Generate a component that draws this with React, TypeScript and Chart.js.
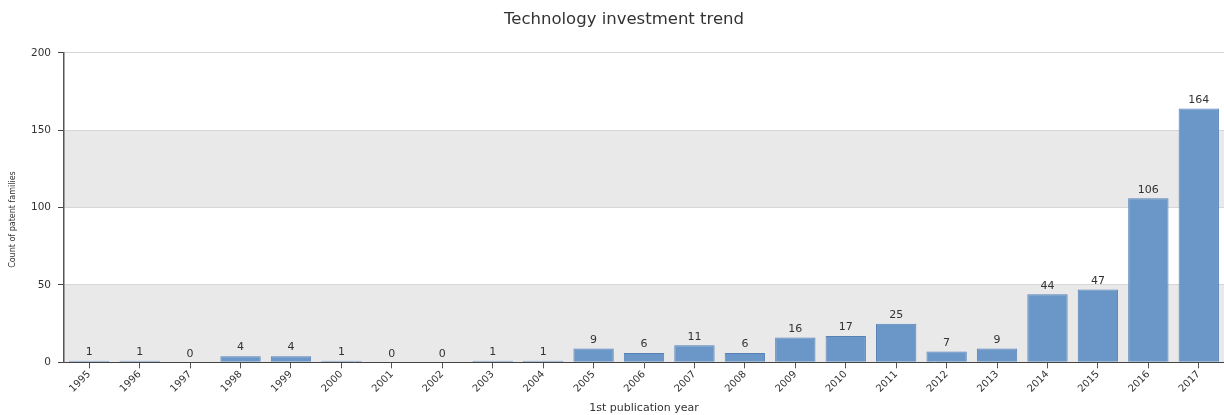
import React, { useEffect, useRef } from "react";
import { Chart, registerables } from "chart.js";

Chart.register(...registerables);

const years = ["1995","1996","1997","1998","1999","2000","2001","2002","2003","2004","2005","2006","2007","2008","2009","2010","2011","2012","2013","2014","2015","2016","2017"];
const counts = [1,1,0,4,4,1,0,0,1,1,9,6,11,6,16,17,25,7,9,44,47,106,164];
const yTicks = [0, 50, 100, 150, 200];
const bands = [[0, 50], [100, 150]];
const yTitle = "Count of patent families";
const xTitle = "1st publication year";
const chartTitle = "Technology investment trend";

const FONT = "'DejaVu Sans', Verdana, sans-serif";

const bandPlugin = {
  id: "bands",
  beforeDraw(chart: any) {
    const { ctx, chartArea, scales } = chart;
    const y = scales.y;
    ctx.save();
    ctx.fillStyle = "#e9e9e9";
    for (const [a, b] of bands) {
      const top = y.getPixelForValue(b);
      const bot = y.getPixelForValue(a);
      ctx.fillRect(chartArea.left, top, chartArea.right - chartArea.left, bot - top);
    }
    ctx.restore();
  },
};

const labelPlugin = {
  id: "barLabels",
  afterDatasetsDraw(chart: any) {
    const { ctx, chartArea } = chart;
    const meta = chart.getDatasetMeta(0);
    ctx.save();
    ctx.font = `11px ${FONT}`;
    ctx.fillStyle = "#333";
    ctx.textAlign = "center";
    ctx.textBaseline = "bottom";
    meta.data.forEach((bar: any, i: number) => {
      ctx.fillText(String(counts[i]), bar.x, bar.y - 3);
    });
    // y axis title
    ctx.font = `8px ${FONT}`;
    ctx.textBaseline = "middle";
    ctx.translate(13, (chartArea.top + chartArea.bottom) / 2 + 12);
    ctx.rotate(-Math.PI / 2);
    ctx.fillText(yTitle, 0, 0);
    ctx.restore();
  },
};

export default function App() {
  const ref = useRef<HTMLCanvasElement>(null);
  useEffect(() => {
    document.body.style.margin = "0";
    const chart = new Chart(ref.current!, {
      type: "bar",
      data: {
        labels: years,
        datasets: [
          {
            data: counts,
            backgroundColor: "#6a97c8",
            borderColor: "#5682b8",
            borderWidth: 1,
            barPercentage: 0.8,
            categoryPercentage: 1,
          },
        ],
      },
      options: {
        animation: false,
        responsive: false,
        maintainAspectRatio: false,
        layout: { padding: { left: 24, right: 0, top: 0, bottom: 0 } },
        plugins: {
          legend: { display: false },
          tooltip: { enabled: false },
          title: {
            display: true,
            text: chartTitle,
            color: "#333",
            font: { family: FONT, size: 16.5, weight: "normal" },
            padding: { top: 10, bottom: 23 },
          },
        },
        scales: {
          x: {
            offset: true,
            grid: { display: true, drawOnChartArea: false, offset: false, tickLength: 6, tickColor: "#555" },
            border: { color: "#444", width: 1 },
            ticks: {
              color: "#333",
              font: { family: FONT, size: 10 },
              minRotation: 45,
              maxRotation: 45,
              padding: 0,
              autoSkip: false,
            },
            title: {
              display: true,
              text: xTitle,
              color: "#333",
              font: { family: FONT, size: 11 },
              padding: { top: 7, bottom: 0 },
            },
          },
          y: {
            min: 0,
            max: 200,
            afterBuildTicks(scale: any) {
              scale.ticks = yTicks.map((v) => ({ value: v }));
            },
            grid: { color: "#d6d6d6", tickColor: "#444", tickLength: 6 },
            border: { color: "#555", width: 1.5 },
            ticks: {
              color: "#333",
              font: { family: FONT, size: 10.5 },
              padding: 7,
            },
          },
        },
      },
      plugins: [bandPlugin, labelPlugin],
    } as any);
    return () => chart.destroy();
  }, []);
  return (
    <div style={{ width: 1224, height: 415 }}>
      <canvas ref={ref} width={1224} height={415} style={{ display: "block" }} />
    </div>
  );
}
